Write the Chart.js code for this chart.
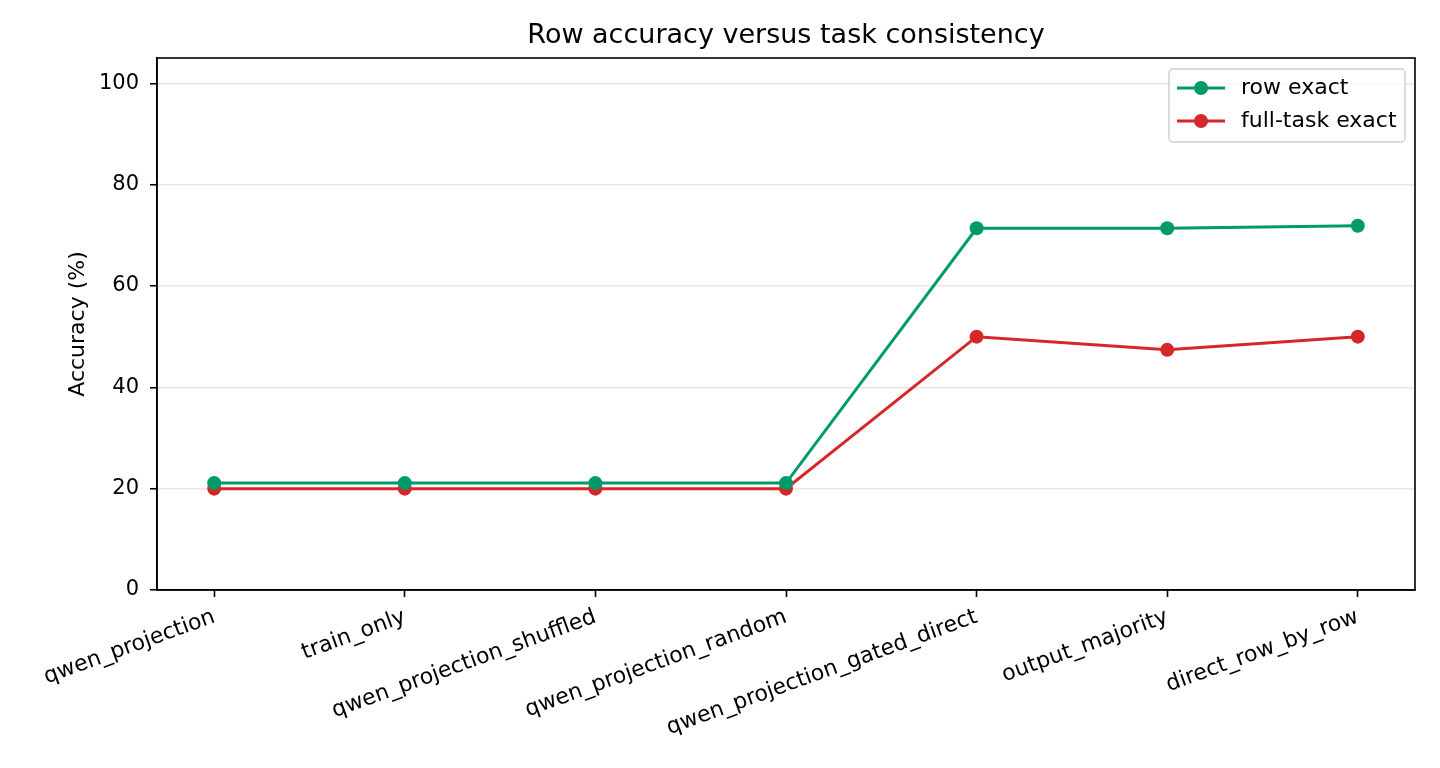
<!DOCTYPE html>
<html>
<head>
<meta charset="utf-8">
<script src="https://cdn.jsdelivr.net/npm/chart.js@4.4.1/dist/chart.umd.min.js"></script>
<style>
  html, body { margin: 0; padding: 0; background: #ffffff; }
  #wrap { width: 1440px; height: 768px; position: relative; }
</style>
</head>
<body>
<div id="wrap"><canvas id="c" width="1440" height="768"></canvas></div>
<script>
const categories = [
  "qwen_projection",
  "train_only",
  "qwen_projection_shuffled",
  "qwen_projection_random",
  "qwen_projection_gated_direct",
  "output_majority",
  "direct_row_by_row"
];
const rowExact = [21.1, 21.1, 21.1, 21.1, 71.4, 71.4, 71.9];
const fullTaskExact = [20.0, 20.0, 20.0, 20.0, 50.0, 47.4, 50.0];
const yTicks = [0, 20, 40, 60, 80, 100];
const seriesLabels = ["row exact", "full-task exact"];
const seriesColors = ["#009a6a", "#d62728"];
const chartTitle = "Row accuracy versus task consistency";

const FONT = "'DejaVu Sans', sans-serif";

const framePlugin = {
  id: 'frame',
  afterDatasetsDraw(chart) {
    const {ctx, chartArea: a} = chart;
    ctx.save();
    ctx.strokeStyle = '#000';
    ctx.lineWidth = 1.6;
    ctx.strokeRect(a.left, a.top, a.right - a.left, a.bottom - a.top);
    ctx.restore();
  }
};

const titlePlugin = {
  id: 'axTitle',
  afterDraw(chart) {
    const {ctx, chartArea: a} = chart;
    ctx.save();
    ctx.fillStyle = '#000';
    ctx.font = "27px " + FONT;
    ctx.textAlign = 'center';
    ctx.textBaseline = 'middle';
    ctx.fillText(chartTitle, (a.left + a.right) / 2, 36);
    ctx.restore();
  }
};

const legendPlugin = {
  id: 'boxLegend',
  afterDraw(chart) {
    const {ctx, chartArea: a} = chart;
    const boxW = 236, boxH = 73;
    const x = a.right - 10 - boxW, y = a.top + 11;
    ctx.save();
    ctx.beginPath();
    ctx.roundRect(x, y, boxW, boxH, 4);
    ctx.fillStyle = 'rgba(255,255,255,0.8)';
    ctx.fill();
    ctx.strokeStyle = '#d0d0d0';
    ctx.lineWidth = 1.5;
    ctx.stroke();
    chart.data.datasets.forEach((ds, i) => {
      const cy = y + 19 + i * 33;
      ctx.strokeStyle = ds.borderColor;
      ctx.lineWidth = 3;
      ctx.beginPath();
      ctx.moveTo(x + 8, cy);
      ctx.lineTo(x + 56, cy);
      ctx.stroke();
      ctx.fillStyle = ds.borderColor;
      ctx.beginPath();
      ctx.arc(x + 32, cy, 7, 0, Math.PI * 2);
      ctx.fill();
      ctx.fillStyle = '#000';
      ctx.font = "22px " + FONT;
      ctx.textBaseline = 'middle';
      ctx.textAlign = 'left';
      ctx.fillText(ds.label, x + 72, cy);
    });
    ctx.restore();
  }
};

const datasets = [rowExact, fullTaskExact].map((vals, i) => ({
  label: seriesLabels[i],
  data: vals.map((v, k) => ({x: k, y: v})),
  borderColor: seriesColors[i],
  backgroundColor: seriesColors[i],
  pointBackgroundColor: seriesColors[i],
  pointBorderWidth: 0,
  pointRadius: 7,
  pointHoverRadius: 7,
  borderWidth: 3,
  tension: 0,
  fill: false
}));

new Chart(document.getElementById('c'), {
  type: 'line',
  data: { datasets },
  options: {
    responsive: false,
    animation: false,
    devicePixelRatio: 1,
    layout: { padding: { left: 0, right: 25, top: 58, bottom: 0 } },
    plugins: {
      legend: { display: false },
      tooltip: { enabled: false },
      title: { display: false }
    },
    scales: {
      x: {
        type: 'linear',
        min: -0.3,
        max: 6.3,
        afterBuildTicks(scale) { scale.ticks = categories.map((_, k) => ({value: k})); },
        afterFit(scale) { scale.height = 178; },
        ticks: {
          color: '#000',
          font: { family: FONT, size: 22 },
          minRotation: 20,
          maxRotation: 20,
          autoSkip: false,
          padding: 7,
          callback: (v) => categories[v]
        },
        grid: { drawOnChartArea: false, drawTicks: true, tickLength: 7, tickColor: '#000', tickWidth: 1.6 },
        border: { display: true, color: '#000', width: 1.6 }
      },
      y: {
        type: 'linear',
        min: 0,
        max: 105,
        afterBuildTicks(scale) { scale.ticks = yTicks.map(v => ({value: v})); },
        afterFit(scale) { scale.width = 157; },
        ticks: {
          color: '#000',
          font: { family: FONT, size: 21 },
          padding: 11
        },
        grid: { color: '#e6e6e6', lineWidth: 1.5, drawTicks: true, tickLength: 7, tickColor: '#000', tickWidth: 1.6 },
        border: { display: true, color: '#000', width: 1.6 },
        title: {
          display: true,
          text: 'Accuracy (%)',
          color: '#000',
          font: { family: FONT, size: 22, lineHeight: 1.2 },
          padding: { top: 65, bottom: 0 }
        }
      }
    }
  },
  plugins: [framePlugin, titlePlugin, legendPlugin]
});
</script>
</body>
</html>
